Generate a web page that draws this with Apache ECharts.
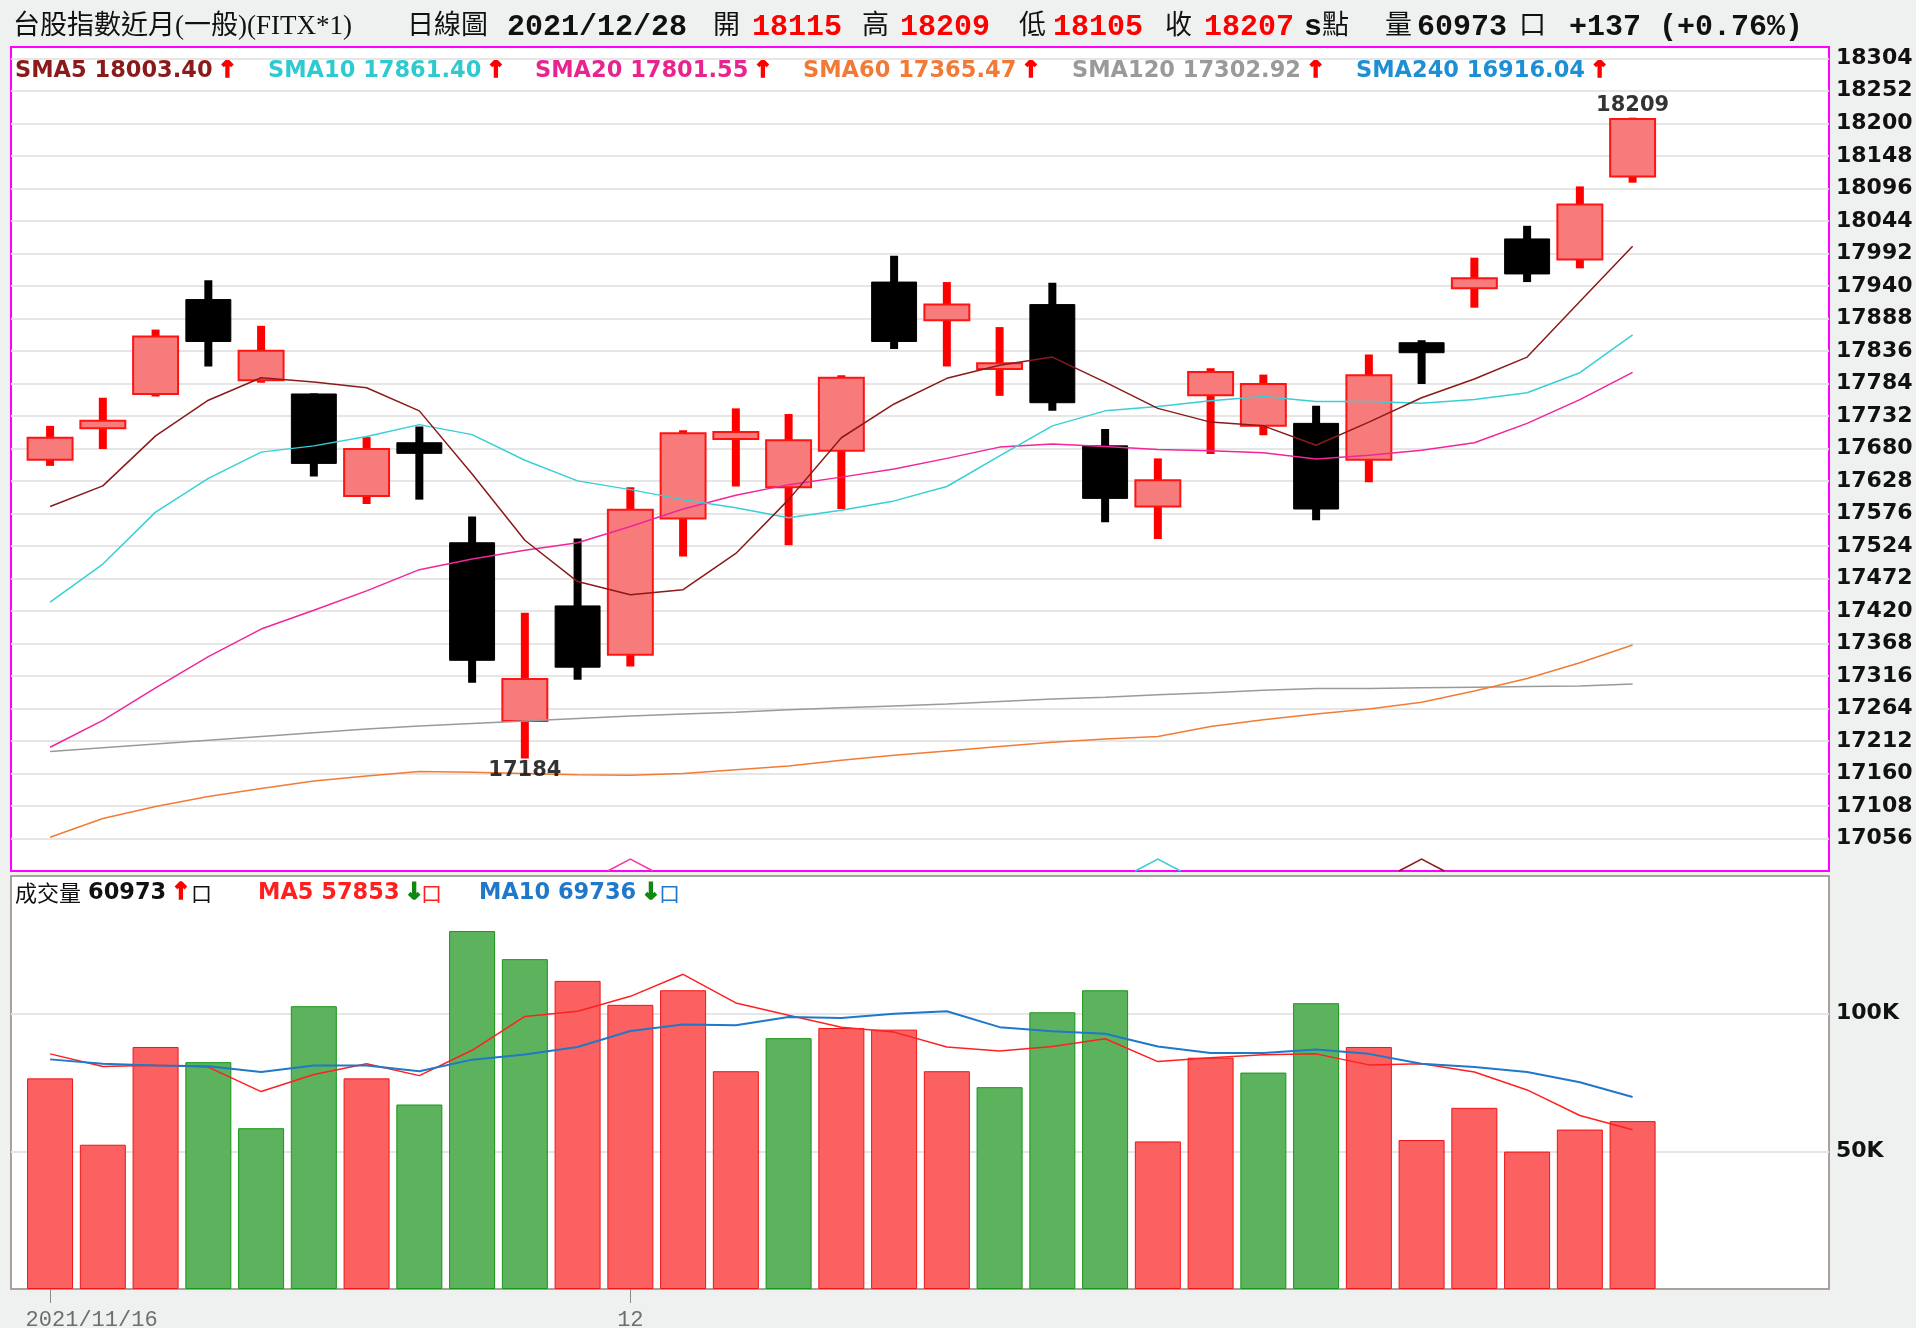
<!DOCTYPE html>
<html>
<head>
<meta charset="utf-8">
<title>台股指數近月 日線圖</title>
<script src="https://cdn.jsdelivr.net/npm/echarts@6.0.0/dist/echarts.min.js"></script>
<style>
  html, body { margin: 0; padding: 0; background: #eff0f0; }
  #kline { width: 1916px; height: 1328px; }
</style>
</head>
<body>
<div id="kline"></div>
<script>
// trading days
var dates = ['2021/11/16', '2021/11/17', '2021/11/18', '2021/11/19', '2021/11/22', '2021/11/23', '2021/11/24',
  '2021/11/25', '2021/11/26', '2021/11/29', '2021/11/30', '2021/12/01', '2021/12/02', '2021/12/03', '2021/12/06',
  '2021/12/07', '2021/12/08', '2021/12/09', '2021/12/10', '2021/12/13', '2021/12/14', '2021/12/15', '2021/12/16',
  '2021/12/17', '2021/12/20', '2021/12/21', '2021/12/22', '2021/12/23', '2021/12/24', '2021/12/27', '2021/12/28']

var opens = [17662, 17712, 17767, 17918, 17789, 17767, 17604, 17689, 17529, 17244, 17428, 17350, 17568, 17695, 17618,
  17676, 17946, 17885, 17807, 17910, 17684, 17587, 17765, 17716, 17720, 17662, 17849, 17936, 18015, 17982, 18115]
var highs = [17716, 17761, 17870, 17949, 17876, 17768, 17698, 17715, 17571, 17417, 17536, 17618, 17709, 17744, 17735,
  17797, 17988, 17946, 17874, 17945, 17711, 17664, 17808, 17798, 17748, 17830, 17853, 17985, 18036, 18099, 18209]
var lows = [17652, 17679, 17763, 17811, 17785, 17635, 17591, 17598, 17305, 17184, 17310, 17331, 17507, 17619, 17525,
  17583, 17839, 17811, 17764, 17740, 17562, 17535, 17671, 17701, 17565, 17626, 17783, 17905, 17946, 17968, 18105]
var closes = [17697, 17724, 17859, 17851, 17836, 17656, 17679, 17672, 17341, 17311, 17330, 17582, 17704, 17706, 17693,
  17793, 17851, 17910, 17816, 17753, 17600, 17629, 17802, 17783, 17583, 17797, 17833, 17952, 17959, 18070, 18207]

// moving averages (last value from the legend)
var sma5 = [17587, 17620, 17700, 17757, 17793, 17786, 17777, 17740, 17639, 17533, 17467, 17446, 17454, 17512, 17598,
  17697, 17751, 17792, 17813, 17826, 17786, 17744, 17722, 17716, 17685, 17722, 17761, 17791, 17826, 17915, 18003.40]
var sma10 = [17434, 17495, 17578, 17632, 17674, 17684, 17699, 17718, 17702, 17661, 17628, 17614, 17598, 17585, 17569,
  17581, 17596, 17619, 17668, 17716, 17740, 17747, 17756, 17763, 17755, 17755, 17752, 17758, 17769, 17801, 17861.40]
var sma20 = [17202, 17245, 17297, 17347, 17391, 17421, 17452, 17486, 17503, 17517, 17529, 17555, 17583, 17605, 17622,
  17634, 17647, 17664, 17682, 17687, 17683, 17678, 17676, 17673, 17663, 17669, 17677, 17689, 17720, 17758, 17801.55]
var sma60 = [17058, 17088, 17107, 17123, 17136, 17148, 17156, 17163, 17162, 17160, 17158, 17157, 17160, 17166, 17172,
  17181, 17189, 17196, 17203, 17210, 17215, 17219, 17235, 17246, 17255, 17263, 17274, 17292, 17312, 17337, 17365.47]
var sma120 = [17195, 17201, 17207, 17213, 17219, 17225, 17231, 17236, 17240, 17244, 17248, 17252, 17255, 17258, 17262,
  17265, 17268, 17271, 17275, 17279, 17282, 17286, 17289, 17293, 17296, 17296, 17297, 17298, 17299, 17300, 17302.92]
var sma240Last = 16916.04

// volume (contracts) and its averages
var volumes = [76500, 52400, 87900, 82400, 58400, 102700, 76500, 67000, 130000, 119800, 111900, 103200, 108500, 79100,
  91100, 94800, 94200, 79100, 73300, 100500, 108500, 53600, 84000, 78600, 103800, 87900, 54100, 65800, 49900, 57900, 60973]
var volSide = ['R', 'R', 'R', 'G', 'G', 'G', 'R', 'G', 'G', 'G', 'R', 'R', 'R', 'R', 'G', 'R', 'R', 'R', 'G', 'G', 'G',
  'R', 'R', 'G', 'G', 'R', 'R', 'R', 'R', 'R', 'R']
var volMa5 = [85400, 80800, 81300, 80600, 71700, 77900, 81800, 77500, 86700, 99000, 100900, 106300, 114300, 103900,
  99400, 95100, 93300, 87900, 86400, 88100, 90900, 82600, 84000, 85100, 85400, 81400, 81800, 78800, 72300, 63000, 57853]
var volMa10 = [83400, 81800, 81200, 80900, 78800, 81200, 81200, 79100, 83300, 85200, 87900, 93700, 96100, 95800,
  98800, 98400, 100000, 100900, 95100, 93600, 92700, 88100, 85700, 85700, 87000, 85400, 81800, 80600, 78800, 75100, 69736]

// crossing markers at the bottom of the price panel
var signalIdx = [11, 21, 26]
var signalColor = ['#f23aa8', '#39cfd6', '#8b1a1a']

var X_MIN = -0.741, X_MAX = 33.723
var P_MIN = 17004, P_MAX = 18322

var myChart = echarts.init(document.querySelector('#kline'))

var last = dates.length - 1
var monthStarts = [0]
dates.forEach(function (d, i) {
  if (i > 0 && d.slice(5, 7) !== dates[i - 1].slice(5, 7)) monthStarts.push(i)
})
var lowIdx = lows.indexOf(Math.min.apply(null, lows))
var highIdx = highs.indexOf(Math.max.apply(null, highs))

function pairs(arr) {
  return arr.map(function (v, i) { return [i, v] })
}

function candleItem(params, api) {
  var i = api.value(0)
  var o = api.value(1), c = api.value(2), l = api.value(3), h = api.value(4)
  var pO = api.coord([i, o]), pC = api.coord([i, c])
  var pL = api.coord([i, l]), pH = api.coord([i, h])
  var w = api.size([0.89, 0])[0]
  var up = c >= o
  var top = Math.min(pO[1], pC[1])
  var hgt = Math.max(Math.abs(pO[1] - pC[1]), 2)
  return {
    type: 'group',
    children: [
      {
        type: 'rect',
        shape: { x: pH[0] - 4, y: pH[1], width: 8, height: pL[1] - pH[1] },
        style: { fill: up ? '#ff0000' : '#000000' }
      },
      {
        type: 'rect',
        shape: { x: pO[0] - w / 2 + 1, y: top, width: w - 2, height: hgt },
        style: up ? { fill: '#f77b7b', stroke: '#ff1414', lineWidth: 2 } : { fill: '#000000', stroke: '#000000', lineWidth: 1 }
      }
    ]
  }
}

function signalItem(params, api) {
  var p = api.coord([api.value(0), P_MIN])
  var half = api.size([0.43, 0])[0]
  return {
    type: 'polyline',
    shape: { points: [[p[0] - half, p[1]], [p[0], p[1] - 12], [p[0] + half, p[1]]] },
    style: { fill: 'none', stroke: signalColor[params.dataIndex], lineWidth: 1.5 }
  }
}

function maLine(name, arr, color) {
  return {
    name: name,
    type: 'line',
    xAxisIndex: 0,
    yAxisIndex: 0,
    data: pairs(arr),
    symbol: 'none',
    silent: true,
    lineStyle: { color: color, width: 1.5 },
    z: 5
  }
}

// header and legend texts
var CJK = "27px 'Liberation Serif', 'Noto Sans CJK TC', serif"
var NUM = "bold 30px 'Liberation Mono', monospace"
var LEG = "bold 22.5px 'DejaVu Sans', sans-serif"
var ARW = "bold 23px 'DejaVu Sans', sans-serif"
var chg = closes[last] - closes[last - 1]
var pct = chg / closes[last - 1] * 100
function sign(v) { return (v >= 0 ? '+' : '') }

function txt(x, y, text, font, color) {
  return { type: 'text', x: x, y: y, silent: true, style: { text: text, font: font, fill: color, verticalAlign: 'middle' } }
}
function legendItem(x, y, label, color, arrowUp) {
  var ac = arrowUp ? '#ff0000' : '#118811'
  return {
    type: 'text', x: x, y: y, silent: true,
    style: {
      text: '{n|' + label + '}{u|' + (arrowUp ? '↑' : '↓') + '}',
      verticalAlign: 'middle',
      rich: {
        n: { fill: color, font: LEG },
        u: { fill: ac, stroke: ac, lineWidth: 1.6, font: ARW, padding: [0, 0, 0, 5] }
      }
    }
  }
}
function boxMark(x, y, color) {
  return txt(x, y, '口', "21px 'Noto Sans CJK TC', sans-serif", color)
}

var HY = 27, LY = 71, VY = 893
var graphics = [
  txt(13, HY, '台股指數近月(一般)(FITX*1)', CJK, '#111'),
  txt(407, HY, '日線圖', CJK, '#111'),
  txt(507, HY, dates[last], NUM, '#111'),
  txt(713, HY, '開', CJK, '#111'),
  txt(752, HY, String(opens[last]), NUM, '#ff0000'),
  txt(862, HY, '高', CJK, '#111'),
  txt(900, HY, String(highs[last]), NUM, '#ff0000'),
  txt(1019, HY, '低', CJK, '#111'),
  txt(1053, HY, String(lows[last]), NUM, '#ff0000'),
  txt(1165, HY, '收', CJK, '#111'),
  txt(1204, HY, String(closes[last]), NUM, '#ff0000'),
  txt(1304, HY, 's', NUM, '#111'),
  txt(1322, HY, '點', CJK, '#111'),
  txt(1385, HY, '量', CJK, '#111'),
  txt(1417, HY, String(volumes[last]), NUM, '#111'),
  txt(1519, HY, '口', CJK, '#111'),
  txt(1569, HY, sign(chg) + chg + ' (' + sign(pct) + pct.toFixed(2) + '%)', NUM, '#111'),

  legendItem(15, LY, 'SMA5 ' + sma5[last].toFixed(2), '#8b1a1a', sma5[last] >= sma5[last - 1]),
  legendItem(268, LY, 'SMA10 ' + sma10[last].toFixed(2), '#2fcad0', sma10[last] >= sma10[last - 1]),
  legendItem(535, LY, 'SMA20 ' + sma20[last].toFixed(2), '#e8258f', sma20[last] >= sma20[last - 1]),
  legendItem(803, LY, 'SMA60 ' + sma60[last].toFixed(2), '#f07a36', sma60[last] >= sma60[last - 1]),
  legendItem(1072, LY, 'SMA120 ' + sma120[last].toFixed(2), '#9a9a9a', sma120[last] >= sma120[last - 1]),
  legendItem(1356, LY, 'SMA240 ' + sma240Last.toFixed(2), '#1f8fd3', true),

  txt(15, VY, '成交量', "22px 'Noto Sans CJK TC', sans-serif", '#111'),
  legendItem(88, VY, String(volumes[last]), '#111', volumes[last] >= volumes[last - 1]),
  boxMark(191, VY, '#111'),
  legendItem(258, VY, 'MA5 ' + volMa5[last], '#ff1f1f', volMa5[last] >= volMa5[last - 1]),
  boxMark(421, VY, '#ff1f1f'),
  legendItem(479, VY, 'MA10 ' + volMa10[last], '#1f78c8', volMa10[last] >= volMa10[last - 1]),
  boxMark(659, VY, '#1f78c8')
]

var option = {
  animation: false,
  backgroundColor: '#eff0f0',
  graphic: graphics,
  grid: [
    { left: 11, top: 47, width: 1818, height: 824, outerBoundsMode: 'none', containLabel: false, show: true, backgroundColor: '#ffffff', borderColor: '#ff00ff', borderWidth: 2 },
    { left: 11, top: 876, width: 1818, height: 413, outerBoundsMode: 'none', containLabel: false, show: true, backgroundColor: '#ffffff', borderColor: '#a9a29b', borderWidth: 2 }
  ],
  xAxis: [
    {
      type: 'value', gridIndex: 0, min: X_MIN, max: X_MAX,
      axisLine: { show: false },
      axisTick: { show: false, customValues: monthStarts },
      axisLabel: { show: false, customValues: monthStarts },
      splitLine: { show: true, showMinLine: false, showMaxLine: false, lineStyle: { color: '#e4e4e4', width: 2 } }
    },
    {
      type: 'value', gridIndex: 1, min: X_MIN, max: X_MAX,
      axisLine: { show: false },
      axisTick: { show: true, length: 14, customValues: monthStarts, lineStyle: { color: '#8a8a8a', width: 1 } },
      axisLabel: {
        customValues: monthStarts,
        margin: 20,
        color: '#6e6e6e',
        fontSize: 22,
        fontFamily: 'Liberation Mono',
        formatter: function (v) {
          var i = Math.round(v)
          if (i === 0) return '{first|' + dates[0] + '}'
          return String(Number(dates[i].slice(5, 7)))
        },
        rich: { first: { padding: [0, 0, 0, 83], color: '#6e6e6e', fontSize: 22, fontFamily: 'Liberation Mono' } }
      },
      splitLine: { show: true, showMinLine: false, showMaxLine: false, lineStyle: { color: '#e4e4e4', width: 2 } }
    }
  ],
  yAxis: [
    {
      type: 'value', gridIndex: 0, position: 'right', min: P_MIN, max: P_MAX, interval: 52,
      axisLine: { show: false },
      axisTick: { show: false },
      axisLabel: {
        showMinLabel: false, showMaxLabel: false, margin: 7, color: '#111', fontWeight: 'bold', fontSize: 22, fontFamily: 'DejaVu Sans',
        formatter: function (v) { return String(v) }
      },
      splitLine: { showMinLine: false, showMaxLine: false, lineStyle: { color: '#e6e6e6', width: 2 } }
    },
    {
      type: 'value', gridIndex: 1, position: 'right', min: 0, max: 150000, interval: 50000,
      axisLine: { show: false },
      axisTick: { show: false },
      axisLabel: {
        showMinLabel: false, showMaxLabel: false, margin: 7, color: '#111', fontWeight: 'bold', fontSize: 22, fontFamily: 'DejaVu Sans',
        formatter: function (v) { return v / 1000 + 'K' }
      },
      splitLine: { showMinLine: false, showMaxLine: false, lineStyle: { color: '#e6e6e6', width: 2 } }
    }
  ],
  series: [
    {
      name: 'K',
      type: 'custom',
      xAxisIndex: 0,
      yAxisIndex: 0,
      renderItem: candleItem,
      encode: { x: 0, y: [1, 2, 3, 4] },
      data: dates.map(function (d, i) { return [i, opens[i], closes[i], lows[i], highs[i]] }),
      clip: true,
      z: 3
    },
    maLine('SMA120', sma120, '#9a9a9a'),
    maLine('SMA60', sma60, '#f27b35'),
    maLine('SMA20', sma20, '#f0269a'),
    maLine('SMA10', sma10, '#36d0d6'),
    maLine('SMA5', sma5, '#8b1a1a'),
    {
      name: 'extremes',
      type: 'scatter',
      xAxisIndex: 0,
      yAxisIndex: 0,
      symbolSize: 1,
      silent: true,
      itemStyle: { color: 'rgba(0,0,0,0)' },
      label: {
        show: true, color: '#000', fontWeight: 'bold', fontSize: 21, fontFamily: 'DejaVu Sans',
        formatter: function (p) { return p.value[1] }
      },
      data: [
        { value: [lowIdx, lows[lowIdx]], label: { position: 'bottom', distance: 1 } },
        { value: [highIdx, highs[highIdx]], label: { position: 'top', distance: 1 } }
      ],
      z: 6
    },
    {
      name: 'signals',
      type: 'custom',
      xAxisIndex: 0,
      yAxisIndex: 0,
      renderItem: signalItem,
      encode: { x: 0 },
      data: signalIdx.map(function (i) { return [i] }),
      silent: true,
      z: 6
    },
    {
      name: '成交量',
      type: 'bar',
      xAxisIndex: 1,
      yAxisIndex: 1,
      barWidth: 46,
      data: volumes.map(function (v, i) {
        return {
          value: [i, v],
          itemStyle: volSide[i] === 'R'
            ? { color: '#fb6161', borderColor: '#f01515', borderWidth: 1 }
            : { color: '#5db35d', borderColor: '#179617', borderWidth: 1 }
        }
      })
    },
    {
      name: 'MA5',
      type: 'line',
      xAxisIndex: 1,
      yAxisIndex: 1,
      data: pairs(volMa5),
      symbol: 'none',
      lineStyle: { color: '#ff2020', width: 1.5 },
      z: 5
    },
    {
      name: 'MA10',
      type: 'line',
      xAxisIndex: 1,
      yAxisIndex: 1,
      data: pairs(volMa10),
      symbol: 'none',
      lineStyle: { color: '#1f78c8', width: 2 },
      z: 5
    }
  ]
}
myChart.setOption(option)
</script>
</body>
</html>
